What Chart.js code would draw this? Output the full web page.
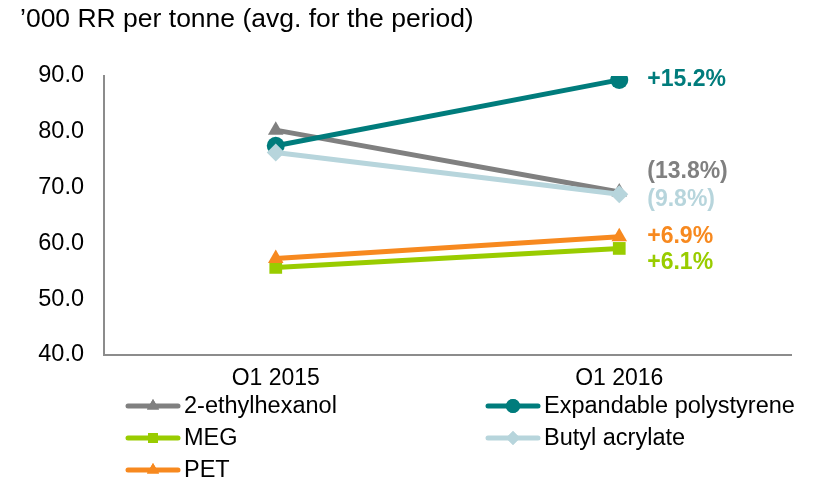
<!DOCTYPE html>
<html>
<head>
<meta charset="utf-8">
<script src="https://cdn.jsdelivr.net/npm/chart.js@4"></script>
<style>
  html, body { margin: 0; padding: 0; background: #fff; }
  #wrap { width: 818px; height: 485px; }
</style>
</head>
<body>
<div id="wrap"><canvas id="chart" width="818" height="485"></canvas></div>
<script>
// Data
const categories = ['Q1 2015', 'Q1 2016'];
const seriesNames = ['2-ethylhexanol', 'Expandable polystyrene', 'MEG', 'Butyl acrylate', 'PET'];
const ethylhexanol = [80.3, 69.2];
const polystyrene = [77.5, 89.3];
const meg = [55.7, 59.1];
const butylAcrylate = [76.3, 68.8];
const pet = [57.3, 61.2];
const changeLabels = ['(13.8%)', '+15.2%', '+6.1%', '(9.8%)', '+6.9%'];
const yTicks = [40, 50, 60, 70, 80, 90];

// Styling
const colors = ['#808080', '#007c7c', '#99cc00', '#b7d5dc', '#f7891f'];
const markers = ['triangle', 'circle', 'rect', 'rectRot', 'triangle'];
const labelNudge = [-20, 0, 14, 5, 0]; // vertical nudge of the end labels
const FONT = 'Liberation Sans, Arial, sans-serif';

const allValues = [ethylhexanol, polystyrene, meg, butylAcrylate, pet];
const drawOrder = [4, 2, 5, 1, 3];

// Draws the title, the end-of-line change labels and the 2-column legend
const extrasPlugin = {
  id: 'extras',
  afterDatasetsDraw(chart) {
    const ctx = chart.ctx;
    ctx.save();
    ctx.fillStyle = '#000';
    ctx.font = '26.5px ' + FONT;
    ctx.textBaseline = 'middle';
    ctx.textAlign = 'left';
    ctx.fillText('\u2019000 RR per tonne (avg. for the period)', 20, 20);

    // change labels next to the last point
    ctx.font = 'bold 23px ' + FONT;
    chart.data.datasets.forEach((ds, i) => {
      const pt = chart.getDatasetMeta(i).data[1];
      ctx.fillStyle = ds.borderColor;
      ctx.fillText(changeLabels[i], pt.x + 28, pt.y + labelNudge[i]);
    });

    // legend
    ctx.font = '23.5px ' + FONT;
    chart.data.datasets.forEach((ds, i) => {
      const col = i % 2;
      const row = Math.floor(i / 2);
      const x = col === 0 ? 128 : 488;
      const y = 406 + row * 32;
      ctx.strokeStyle = ds.borderColor;
      ctx.lineWidth = 5;
      ctx.lineCap = 'round';
      ctx.beginPath();
      ctx.moveTo(x, y);
      ctx.lineTo(x + 50, y);
      ctx.stroke();
      ctx.fillStyle = ds.borderColor;
      Chart.helpers.drawPoint(ctx, {
        pointStyle: ds.pointStyle,
        radius: 7,
        borderWidth: 0,
        rotation: 0
      }, x + 25, y);
      ctx.fill();
      ctx.fillStyle = '#000';
      ctx.fillText(ds.label, x + 56, y + 1);
    });
    ctx.restore();
  }
};

new Chart(document.getElementById('chart'), {
  type: 'line',
  data: {
    labels: categories,
    datasets: seriesNames.map((name, i) => ({
      label: name,
      data: allValues[i],
      borderColor: colors[i],
      backgroundColor: colors[i],
      pointStyle: markers[i],
      pointRadius: 9,
      pointHoverRadius: 9,
      borderWidth: 5,
      pointBorderWidth: 0,
      tension: 0,
      order: drawOrder[i]
    }))
  },
  options: {
    responsive: false,
    animation: false,
    layout: { padding: { top: 76, left: 0, right: 27, bottom: 100 } },
    plugins: {
      legend: { display: false },
      tooltip: { enabled: false }
    },
    scales: {
      x: {
        offset: true,
        grid: { display: false, drawTicks: false },
        border: { display: true, color: '#8c8c8c', width: 2 },
        ticks: { color: '#000', font: { size: 23, family: FONT }, padding: 10 },
        afterFit(scale) { scale.height = 30; }
      },
      y: {
        min: 40,
        max: 90,
        afterBuildTicks(scale) { scale.ticks = yTicks.map(v => ({ value: v })); },
        grid: { display: false, drawTicks: false },
        border: { display: true, color: '#8c8c8c', width: 2 },
        ticks: {
          color: '#000',
          font: { size: 23.5, family: FONT },
          padding: 20,
          callback: v => Number(v).toFixed(1)
        },
        afterFit(scale) { scale.width = 104; }
      }
    }
  },
  plugins: [extrasPlugin]
});
</script>
</body>
</html>
